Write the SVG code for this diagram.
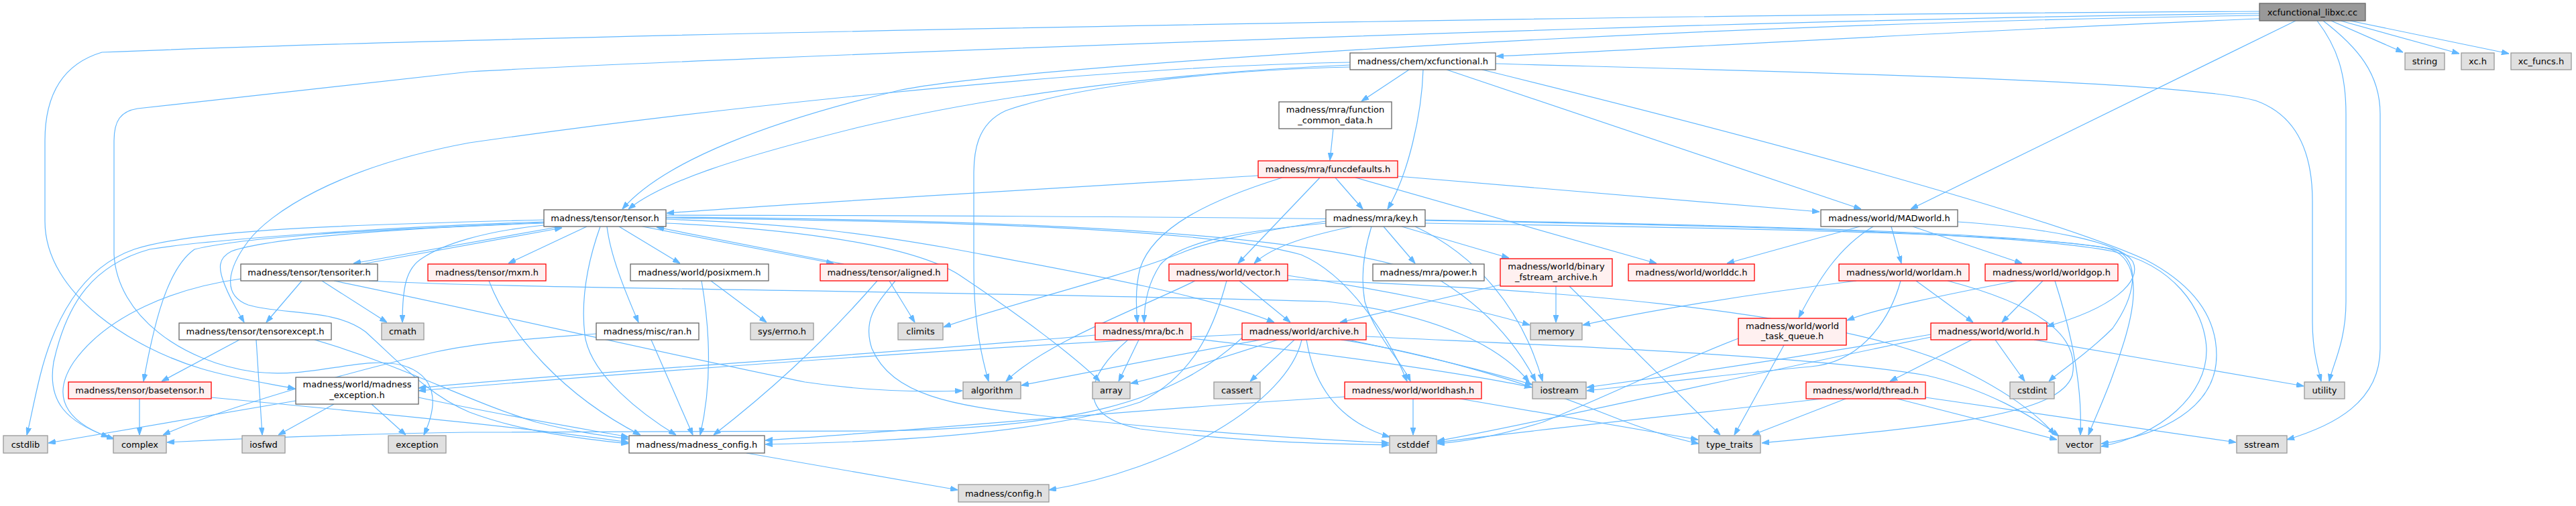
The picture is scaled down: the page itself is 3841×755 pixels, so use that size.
<svg xmlns="http://www.w3.org/2000/svg" width="3841" height="755" viewBox="0 0 3841 755">
<style>
rect{stroke-width:1.3}
.w rect{fill:#ffffff;stroke:#666666}
.r rect{fill:#fff0f0;stroke:#ff0000}
.g rect{fill:#e0e0e0;stroke:#999999}
.root rect{fill:#999999;stroke:#666666}
text{font-family:"DejaVu Sans","Liberation Sans",sans-serif;font-size:13px;fill:#000;text-anchor:middle}
#edges path{fill:none;stroke:#63b8ff;stroke-width:1.2;marker-end:url(#ah)}
</style>
<defs>
<marker id="ah" viewBox="0 0 10 7" refX="10" refY="3.5" markerWidth="11" markerHeight="8" markerUnits="userSpaceOnUse" orient="auto">
<path d="M0,0 L10,3.5 L0,7 z" fill="#63b8ff" stroke="#63b8ff"/>
</marker>
</defs>
<rect width="3841" height="755" fill="#ffffff"/>
<g id="edges">
<path d="M3476,31 L3583,78"/>
<path d="M3490,31 L3667,80"/>
<path d="M3504,31 L3741,80"/>
<path d="M3369,28 C3000,42 2500,72 2231,84"/>
<path d="M3423,31 L2849,312"/>
<path d="M3369,23 C2500,35 1500,100 1340,135 C1150,180 990,240 928,312"/>
<path d="M3369,17 C2600,20 900,48 152,78 C95,95 67,140 67,210 L67,330 C67,440 200,520 300,550 C350,565 400,572 440,580"/>
<path d="M3369,20 C2500,30 1000,90 700,107 L205,162 C180,166 170,180 170,210 L170,380 C175,470 270,540 380,555 C470,565 540,530 600,545 C650,560 655,600 632,649"/>
<path d="M3455,31 C3485,70 3498,110 3498,170 L3498,450 C3498,510 3478,545 3473,569"/>
<path d="M3464,31 C3515,70 3549,110 3549,170 L3549,520 C3549,600 3480,635 3410,656"/>
<path d="M2101,104 L2030,151"/>
<path d="M2122,104 C2120,170 2100,260 2069,312"/>
<path d="M2157,104 L2775,312"/>
<path d="M2013,97 C1700,110 1450,150 1280,190 C1100,235 990,270 937,312"/>
<path d="M2013,93 C1600,100 1000,170 700,213 C500,250 400,320 370,360 C340,400 330,440 370,455 C420,470 500,460 545,495 C600,545 640,590 700,615 C780,645 870,655 937,662"/>
<path d="M2013,100 C1800,105 1600,130 1500,165 C1455,185 1452,230 1452,260 L1452,400 C1452,470 1460,520 1474,569"/>
<path d="M2230,95 C2700,108 3250,120 3363,150 C3420,170 3448,220 3448,300 L3448,480 C3448,520 3455,545 3461,569"/>
<path d="M2210,104 C2600,200 3050,320 3200,388 C3280,430 3305,480 3305,530 C3305,610 3220,650 3133,662"/>
<path d="M1988,192 L1983,239"/>
<path d="M1991,265 L2032,312"/>
<path d="M1876,262 C1600,280 1200,302 994,318"/>
<path d="M2084,263 L2713,316"/>
<path d="M2021,265 L2470,393"/>
<path d="M1968,265 L1846,393"/>
<path d="M1912,265 C1800,300 1720,340 1700,400 C1692,430 1694,460 1696,481"/>
<path d="M1977,333 C1850,345 1760,360 1730,395 C1710,425 1706,455 1706,481"/>
<path d="M2063,338 L2110,393"/>
<path d="M2090,338 L2250,385"/>
<path d="M2016,338 C1960,350 1900,365 1870,393"/>
<path d="M2045,338 C2035,370 2028,410 2035,450 C2050,500 2090,540 2103,569"/>
<path d="M1977,330 C1880,345 1800,360 1760,378 C1650,420 1500,455 1407,488"/>
<path d="M2125,329 C2500,335 3000,345 3150,375 C3240,395 3287,460 3290,520 C3292,590 3220,650 3133,666"/>
<path d="M2125,333 C2600,340 3100,350 3160,375 C3190,395 3185,440 3150,490 C3110,530 3070,555 3055,569"/>
<path d="M2110,338 C2200,380 2270,460 2300,569"/>
<path d="M2773,338 L2575,393"/>
<path d="M2793,338 C2740,370 2710,420 2682,474"/>
<path d="M2820,338 L2835,393"/>
<path d="M2852,338 L3015,393"/>
<path d="M2919,331 C3050,340 3160,360 3180,390 C3195,420 3150,460 3052,487"/>
<path d="M836,338 L527,393"/>
<path d="M540,394 L838,340"/>
<path d="M811,333 C600,340 400,355 345,375 C325,385 325,400 335,425 C345,450 355,465 364,481"/>
<path d="M875,338 L758,393"/>
<path d="M905,338 C910,380 930,430 952,481"/>
<path d="M923,338 L1014,393"/>
<path d="M958,338 L1243,393"/>
<path d="M1258,394 L979,339"/>
<path d="M895,338 C880,380 865,440 872,500 C880,560 960,620 1008,649"/>
<path d="M811,336 C720,345 660,365 630,385 C605,400 600,430 600,481"/>
<path d="M811,331 C600,338 330,355 223,372 C140,395 100,450 80,540 C70,600 100,630 162,652"/>
<path d="M811,332 C600,342 380,350 290,372 C250,400 230,480 214,569"/>
<path d="M811,328 C550,335 300,340 200,372 C120,400 80,480 60,560 C50,600 45,630 40,649"/>
<path d="M993,333 C1150,340 1350,360 1430,410 C1520,470 1600,530 1640,569"/>
<path d="M993,327 C1200,335 1300,350 1414,370 C1600,405 1800,440 1900,481"/>
<path d="M993,325 C1400,330 1800,340 1940,380 C2010,410 2070,500 2098,569"/>
<path d="M993,324 C1500,328 2000,345 2150,420 C2230,470 2270,530 2290,569"/>
<path d="M993,321 C1800,322 2900,330 3140,370 C3185,380 3190,430 3170,500 C3150,570 3125,620 3114,649"/>
<path d="M450,419 L397,481"/>
<path d="M480,419 L577,481"/>
<path d="M359,416 C260,430 160,470 110,540 C70,600 110,635 170,655"/>
<path d="M550,419 C800,432 1400,433 1980,450 C2150,470 2240,520 2280,570"/>
<path d="M498,419 C700,460 1000,530 1200,570 C1300,585 1380,585 1435,583"/>
<path d="M357,507 L241,569"/>
<path d="M382,507 L391,649"/>
<path d="M469,507 C600,545 700,600 800,630 C860,645 900,650 937,655"/>
<path d="M208,595 L208,649"/>
<path d="M315,593 C600,620 800,640 937,660"/>
<path d="M498,603 L415,649"/>
<path d="M554,603 L605,649"/>
<path d="M441,598 L72,661"/>
<path d="M624,593 C750,620 870,640 937,652"/>
<path d="M729,419 C760,500 840,590 955,649"/>
<path d="M1060,419 L1143,481"/>
<path d="M1046,419 C1060,500 1060,580 1044,649"/>
<path d="M971,507 L1033,649"/>
<path d="M889,498 C800,505 720,510 650,525 C500,560 330,610 243,649"/>
<path d="M1326,419 L1364,481"/>
<path d="M1308,419 C1220,520 1140,590 1064,649"/>
<path d="M1335,419 C1310,450 1285,475 1300,520 C1330,590 1420,605 1550,620 C1750,642 1950,655 2071,661"/>
<path d="M1782,419 C1700,460 1560,510 1500,569"/>
<path d="M1848,419 L1924,481"/>
<path d="M1920,417 C2300,430 2700,460 2900,540 C2990,580 3040,620 3064,649"/>
<path d="M1920,411 C2050,430 2200,460 2281,485"/>
<path d="M1829,419 C1810,490 1780,560 1700,600 C1550,650 1300,660 1141,663"/>
<path d="M1698,507 L1668,569"/>
<path d="M1682,507 C1620,560 1600,620 1700,640 C1850,660 1980,662 2071,664"/>
<path d="M1633,500 C1300,530 800,560 624,579"/>
<path d="M1776,505 C2000,530 2200,560 2284,578"/>
<path d="M1880,507 C1750,530 1600,560 1523,575"/>
<path d="M1905,507 C1820,535 1740,560 1686,572"/>
<path d="M1930,507 L1864,569"/>
<path d="M1941,507 C1920,600 1750,700 1564,731"/>
<path d="M1948,507 C1960,580 2000,630 2072,652"/>
<path d="M2010,507 C2120,530 2220,555 2285,574"/>
<path d="M2000,507 C2150,530 2300,580 2400,620 C2450,640 2500,655 2533,662"/>
<path d="M2037,502 C2300,515 2700,530 2872,560 C2960,580 3030,620 3070,651"/>
<path d="M1852,499 C1400,520 900,560 624,583"/>
<path d="M1852,504 C1750,600 1600,640 1300,643 L700,645 C500,648 350,655 249,660"/>
<path d="M2237,425 L1998,481"/>
<path d="M2320,427 L2320,481"/>
<path d="M2340,427 L2565,649"/>
<path d="M2107,595 L2107,649"/>
<path d="M2177,595 L2532,656"/>
<path d="M2005,592 C1700,610 1400,640 1141,657"/>
<path d="M2768,419 C2600,440 2450,465 2360,485"/>
<path d="M2857,419 L2942,481"/>
<path d="M2904,419 C3060,460 3100,510 3090,560 C3070,620 2900,635 2627,661"/>
<path d="M2834,419 C2820,470 2780,540 2700,547 C2600,556 2440,575 2366,583"/>
<path d="M3007,419 C2900,440 2800,460 2754,478"/>
<path d="M3046,419 L2985,481"/>
<path d="M3064,419 C3090,500 3105,580 3102,649"/>
<path d="M2660,515 L2586,649"/>
<path d="M2592,505 C2500,540 2400,590 2300,630 C2220,655 2170,660 2143,662"/>
<path d="M2940,507 L2818,569"/>
<path d="M2975,507 L3019,569"/>
<path d="M3033,507 L3435,576"/>
<path d="M2879,499 C2700,530 2500,560 2366,578"/>
<path d="M2879,503 C2600,560 2300,630 2143,658"/>
<path d="M2752,595 L2613,649"/>
<path d="M2829,595 L3067,656"/>
<path d="M2871,593 L3334,660"/>
<path d="M2717,595 C2500,620 2300,640 2143,660"/>
<path d="M1113,676 L1428,731"/>
</g>
<g id="libxc" class="root"><rect x="3369" y="5" width="158" height="26"/><text x="3448" y="22.5">xcfunctional_libxc.cc</text></g>
<g id="xcf" class="w"><rect x="2013" y="79" width="217" height="25"/><text x="2121.5" y="96">madness/chem/xcfunctional.h</text></g>
<g id="string" class="g"><rect x="3586" y="79" width="59" height="25"/><text x="3615.5" y="96">string</text></g>
<g id="xch" class="g"><rect x="3670" y="79" width="49" height="25"/><text x="3694.5" y="96">xc.h</text></g>
<g id="xcfuncs" class="g"><rect x="3744" y="79" width="90" height="25"/><text x="3789" y="96">xc_funcs.h</text></g>
<g id="fcd" class="w"><rect x="1907" y="152" width="168" height="40"/><text x="1991" y="168">madness/mra/function</text><text x="1991" y="184">_common_data.h</text></g>
<g id="funcdef" class="r"><rect x="1876" y="240" width="208" height="25"/><text x="1980" y="257">madness/mra/funcdefaults.h</text></g>
<g id="tensor" class="w"><rect x="811" y="313" width="182" height="25"/><text x="902" y="330">madness/tensor/tensor.h</text></g>
<g id="key" class="w"><rect x="1977" y="313" width="148" height="25"/><text x="2051" y="330">madness/mra/key.h</text></g>
<g id="madworld" class="w"><rect x="2715" y="313" width="204" height="25"/><text x="2817" y="330">madness/world/MADworld.h</text></g>
<g id="tensoriter" class="w"><rect x="359" y="394" width="204" height="25"/><text x="461" y="411">madness/tensor/tensoriter.h</text></g>
<g id="mxm" class="r"><rect x="638" y="394" width="176" height="25"/><text x="726" y="411">madness/tensor/mxm.h</text></g>
<g id="posixmem" class="w"><rect x="940" y="394" width="206" height="25"/><text x="1043" y="411">madness/world/posixmem.h</text></g>
<g id="aligned" class="r"><rect x="1223" y="394" width="190" height="25"/><text x="1318" y="411">madness/tensor/aligned.h</text></g>
<g id="wvector" class="r"><rect x="1743" y="394" width="177" height="25"/><text x="1831.5" y="411">madness/world/vector.h</text></g>
<g id="power" class="w"><rect x="2047" y="394" width="166" height="25"/><text x="2130" y="411">madness/mra/power.h</text></g>
<g id="bfa" class="r"><rect x="2237" y="386" width="167" height="41"/><text x="2320.5" y="402">madness/world/binary</text><text x="2320.5" y="418">_fstream_archive.h</text></g>
<g id="worlddc" class="r"><rect x="2428" y="394" width="188" height="25"/><text x="2522" y="411">madness/world/worlddc.h</text></g>
<g id="worldam" class="r"><rect x="2742" y="394" width="194" height="25"/><text x="2839" y="411">madness/world/worldam.h</text></g>
<g id="worldgop" class="r"><rect x="2960" y="394" width="198" height="25"/><text x="3059" y="411">madness/world/worldgop.h</text></g>
<g id="tensorexcept" class="w"><rect x="267" y="482" width="227" height="25"/><text x="380.5" y="499">madness/tensor/tensorexcept.h</text></g>
<g id="cmath" class="g"><rect x="569" y="482" width="63" height="25"/><text x="600.5" y="499">cmath</text></g>
<g id="ran" class="w"><rect x="889" y="482" width="153" height="25"/><text x="965.5" y="499">madness/misc/ran.h</text></g>
<g id="errno" class="g"><rect x="1119" y="482" width="94" height="25"/><text x="1166" y="499">sys/errno.h</text></g>
<g id="climits" class="g"><rect x="1339" y="482" width="67" height="25"/><text x="1372.5" y="499">climits</text></g>
<g id="bc" class="r"><rect x="1633" y="482" width="143" height="25"/><text x="1704.5" y="499">madness/mra/bc.h</text></g>
<g id="archive" class="r"><rect x="1852" y="482" width="185" height="25"/><text x="1944.5" y="499">madness/world/archive.h</text></g>
<g id="memory" class="g"><rect x="2282" y="482" width="77" height="25"/><text x="2320.5" y="499">memory</text></g>
<g id="wtq" class="r"><rect x="2592" y="475" width="161" height="40"/><text x="2672.5" y="491">madness/world/world</text><text x="2672.5" y="506">_task_queue.h</text></g>
<g id="world" class="r"><rect x="2879" y="482" width="173" height="25"/><text x="2965.5" y="499">madness/world/world.h</text></g>
<g id="basetensor" class="r"><rect x="102" y="570" width="213" height="25"/><text x="208.5" y="587">madness/tensor/basetensor.h</text></g>
<g id="mexc" class="w"><rect x="441" y="563" width="183" height="40"/><text x="532.5" y="578">madness/world/madness</text><text x="532.5" y="594">_exception.h</text></g>
<g id="algorithm" class="g"><rect x="1436" y="570" width="86" height="25"/><text x="1479" y="587">algorithm</text></g>
<g id="array" class="g"><rect x="1629" y="570" width="56" height="25"/><text x="1657" y="587">array</text></g>
<g id="cassert" class="g"><rect x="1810" y="570" width="69" height="25"/><text x="1844.5" y="587">cassert</text></g>
<g id="worldhash" class="r"><rect x="2005" y="570" width="204" height="25"/><text x="2107" y="587">madness/world/worldhash.h</text></g>
<g id="iostream" class="g"><rect x="2285" y="570" width="80" height="25"/><text x="2325" y="587">iostream</text></g>
<g id="thread" class="r"><rect x="2693" y="570" width="178" height="25"/><text x="2782" y="587">madness/world/thread.h</text></g>
<g id="cstdint" class="g"><rect x="2997" y="570" width="66" height="25"/><text x="3030" y="587">cstdint</text></g>
<g id="utility" class="g"><rect x="3436" y="570" width="60" height="25"/><text x="3466" y="587">utility</text></g>
<g id="cstdlib" class="g"><rect x="5" y="650" width="66" height="26"/><text x="38" y="667.5">cstdlib</text></g>
<g id="complex" class="g"><rect x="169" y="650" width="79" height="26"/><text x="208.5" y="667.5">complex</text></g>
<g id="iosfwd" class="g"><rect x="361" y="650" width="64" height="26"/><text x="393" y="667.5">iosfwd</text></g>
<g id="exception" class="g"><rect x="579" y="650" width="86" height="26"/><text x="622" y="667.5">exception</text></g>
<g id="mconfig" class="w"><rect x="938" y="650" width="202" height="26"/><text x="1039" y="667.5">madness/madness_config.h</text></g>
<g id="cstddef" class="g"><rect x="2072" y="650" width="70" height="26"/><text x="2107" y="667.5">cstddef</text></g>
<g id="type_traits" class="g"><rect x="2533" y="650" width="92" height="26"/><text x="2579" y="667.5">type_traits</text></g>
<g id="vector" class="g"><rect x="3069" y="650" width="63" height="26"/><text x="3100.5" y="667.5">vector</text></g>
<g id="sstream" class="g"><rect x="3335" y="650" width="75" height="26"/><text x="3372.5" y="667.5">sstream</text></g>
<g id="config" class="g"><rect x="1429" y="723" width="135" height="26"/><text x="1496.5" y="740.5">madness/config.h</text></g>
</svg>
